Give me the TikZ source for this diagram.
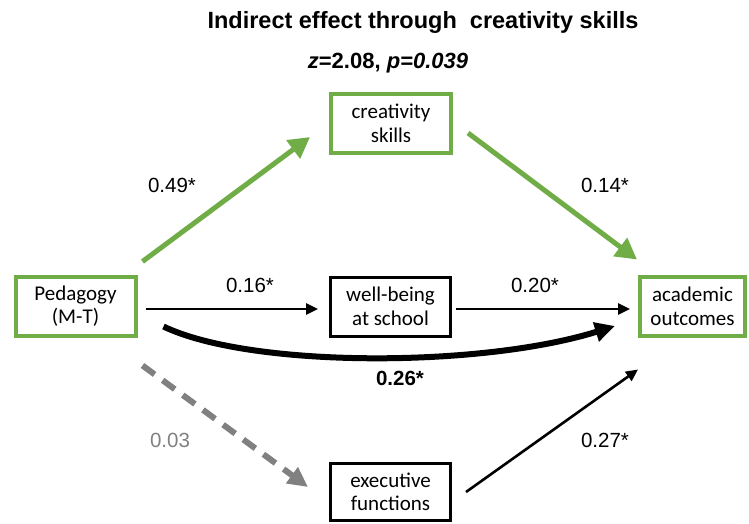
\documentclass[tikz,border=0pt]{standalone}
\usepackage{fontspec}
\setmainfont{Liberation Sans}
\newfontfamily\boxfont{Carlito}
\usepackage{xcolor}
\usetikzlibrary{arrows.meta}
\definecolor{pathgreen}{HTML}{70AD47}
\definecolor{pathgray}{HTML}{808080}

\begin{document}
\begin{tikzpicture}[x=1pt, y=-1pt,
  box/.style = {draw, line width=3pt, minimum width=120pt, minimum height=59pt, align=center, inner sep=2pt, font=\boxfont\fontsize{21}{23.5}\selectfont},
  gbox/.style = {box, draw=pathgreen, line width=4pt},
  lbl/.style = {font=\fontsize{20.5}{22}\selectfont},
  garr/.style = {pathgreen, line width=5pt, -{Triangle[length=21pt,width=22pt]}},
  barr/.style = {line width=2.6pt, -{Triangle[length=12pt,width=11pt]}}]
\useasboundingbox (0,0) rectangle (749,523);
% titles
\node (title) at (423,22) {\bfseries\fontsize{23.5}{26}\selectfont Indirect effect through\ \ creativity skills};
\node (ztest) at (388,63) {\bfseries\fontsize{22}{24}\selectfont \emph{z}=2.08, \emph{p=0.039}};
% variables
\node[gbox] (ped) at (75.5,306) {Pedagogy\\(M-T)};
\node[gbox] (cre) at (391,123.5) {creativity\\skills};
\node[box] (wel) at (390.5,306.5) {well-being\\at school};
\node[gbox, minimum width=105pt] (aca) at (692.5,306.5) {academic\\outcomes};
\node[box, minimum height=57pt] (exe) at (390.5,492) {executive\\functions};
% paths
\draw[garr] ([shift={(5,-13)}]ped.north east) -- ([shift={(-19,-18)}]cre.south west);
\draw[garr] ([shift={(15,9.5)}]cre.east) -- ([shift={(-1,-15.5)}]aca.north west);
\draw[barr] ([shift={(8,3)}]ped.east) -- ([shift={(-11,2.5)}]wel.west);
\draw[barr] ([shift={(4,2.5)}]wel.east) -- ([shift={(-8,2.5)}]aca.west);
\draw[line width=6pt, -{Triangle[length=20pt,width=19pt]}] ([shift={(26,-11)}]ped.south east) .. controls (250,368) and (480,368) .. ([shift={(-23,19.5)}]aca.west);
\draw[pathgray, line width=6pt, dash pattern=on 15pt off 10pt, -{Triangle[length=20pt,width=19pt]}] ([shift={(5,28)}]ped.south east) -- ([shift={(-21,-5)}]exe.west);
\draw[barr] ([shift={(14,0)}]exe.east) -- ([shift={(0,31.5)}]aca.south west);
% coefficients
\node[lbl] (b49) at (172,185) {0.49*};
\node[lbl] (b14) at (605,185) {0.14*};
\node[lbl] (b16) at (250,285) {0.16*};
\node[lbl] (b20) at (535,285) {0.20*};
\node[lbl, font=\bfseries\fontsize{20.5}{22}\selectfont] (b26) at (400,378) {0.26*};
\node[lbl, text=pathgray] (b03) at (170,440) {0.03};
\node[lbl] (b27) at (605,440) {0.27*};
\end{tikzpicture}
\end{document}
